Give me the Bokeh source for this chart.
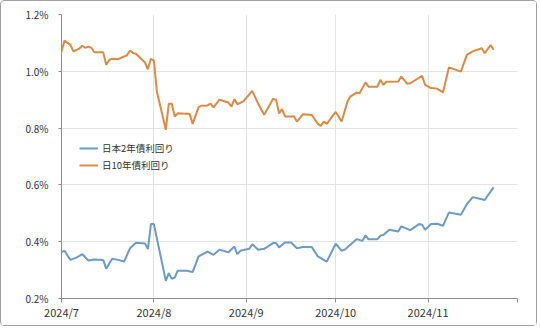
import pandas as pd
from bokeh.plotting import figure
from bokeh.models import Range1d, FixedTicker, Legend, LegendItem
from bokeh.embed import file_html
from bokeh.resources import INLINE

# ---- data (yields in %) ----
dates_2y = [
    "2024-07-01", "2024-07-02", "2024-07-04", "2024-07-06", "2024-07-08", "2024-07-10",
    "2024-07-12", "2024-07-15", "2024-07-16", "2024-07-18", "2024-07-20", "2024-07-22",
    "2024-07-24", "2024-07-26", "2024-07-29", "2024-07-30", "2024-07-31", "2024-08-01",
    "2024-08-05", "2024-08-06", "2024-08-07", "2024-08-08", "2024-08-09", "2024-08-12",
    "2024-08-14", "2024-08-16", "2024-08-19", "2024-08-21", "2024-08-23", "2024-08-26",
    "2024-08-28", "2024-08-29", "2024-08-30", "2024-09-02", "2024-09-03", "2024-09-05",
    "2024-09-07", "2024-09-10", "2024-09-11", "2024-09-12", "2024-09-14", "2024-09-16",
    "2024-09-18", "2024-09-20", "2024-09-23", "2024-09-25", "2024-09-28", "2024-10-01",
    "2024-10-03", "2024-10-04", "2024-10-08", "2024-10-10", "2024-10-11", "2024-10-12",
    "2024-10-15", "2024-10-16", "2024-10-17", "2024-10-19", "2024-10-22", "2024-10-23",
    "2024-10-26", "2024-10-29", "2024-10-30", "2024-10-31", "2024-11-02", "2024-11-04",
    "2024-11-06", "2024-11-08", "2024-11-12", "2024-11-14", "2024-11-16", "2024-11-20",
    "2024-11-21", "2024-11-23",
]
yield_2y = [
    0.363, 0.368, 0.336, 0.344, 0.356, 0.334,
    0.337, 0.336, 0.305, 0.340, 0.336, 0.330,
    0.377, 0.396, 0.394, 0.374, 0.462, 0.462,
    0.262, 0.289, 0.269, 0.274, 0.298, 0.298,
    0.293, 0.348, 0.365, 0.354, 0.372, 0.363,
    0.383, 0.356, 0.368, 0.375, 0.391, 0.372,
    0.375, 0.395, 0.395, 0.380, 0.397, 0.397,
    0.377, 0.381, 0.381, 0.348, 0.330, 0.393,
    0.368, 0.372, 0.409, 0.403, 0.422, 0.409,
    0.409, 0.421, 0.424, 0.442, 0.436, 0.454,
    0.441, 0.462, 0.460, 0.442, 0.462, 0.463,
    0.456, 0.503, 0.495, 0.532, 0.557, 0.547,
    0.562, 0.591,
]

dates_10y = [
    "2024-07-01", "2024-07-02", "2024-07-04", "2024-07-05", "2024-07-07", "2024-07-08",
    "2024-07-09", "2024-07-10", "2024-07-11", "2024-07-12", "2024-07-15", "2024-07-16",
    "2024-07-17", "2024-07-18", "2024-07-20", "2024-07-22", "2024-07-23", "2024-07-24",
    "2024-07-25", "2024-07-26", "2024-07-29", "2024-07-30", "2024-07-31", "2024-08-01",
    "2024-08-02", "2024-08-05", "2024-08-06", "2024-08-07", "2024-08-08", "2024-08-09",
    "2024-08-13", "2024-08-14", "2024-08-16", "2024-08-17", "2024-08-19", "2024-08-20",
    "2024-08-21", "2024-08-23", "2024-08-26", "2024-08-27", "2024-08-28", "2024-08-29",
    "2024-08-31", "2024-09-03", "2024-09-05", "2024-09-07", "2024-09-10", "2024-09-11",
    "2024-09-12", "2024-09-13", "2024-09-14", "2024-09-17", "2024-09-18", "2024-09-20",
    "2024-09-23", "2024-09-25", "2024-09-26", "2024-09-27", "2024-09-28", "2024-10-01",
    "2024-10-03", "2024-10-05", "2024-10-06", "2024-10-08", "2024-10-09", "2024-10-11",
    "2024-10-12", "2024-10-15", "2024-10-16", "2024-10-17", "2024-10-18", "2024-10-22",
    "2024-10-23", "2024-10-25", "2024-10-26", "2024-10-30", "2024-10-31", "2024-11-02",
    "2024-11-04", "2024-11-06", "2024-11-08", "2024-11-12", "2024-11-14", "2024-11-16",
    "2024-11-19", "2024-11-20", "2024-11-22", "2024-11-23",
]
yield_10y = [
    1.070, 1.108, 1.093, 1.070, 1.080, 1.090,
    1.083, 1.087, 1.083, 1.067, 1.067, 1.023,
    1.040, 1.044, 1.043, 1.052, 1.057, 1.073,
    1.064, 1.062, 1.031, 1.007, 1.044, 1.038,
    0.929, 0.794, 0.886, 0.886, 0.841, 0.852,
    0.850, 0.815, 0.874, 0.879, 0.880, 0.886,
    0.873, 0.900, 0.890, 0.876, 0.902, 0.884,
    0.894, 0.931, 0.886, 0.847, 0.903, 0.900,
    0.852, 0.867, 0.841, 0.841, 0.823, 0.849,
    0.846, 0.815, 0.808, 0.823, 0.815, 0.857,
    0.823, 0.895, 0.912, 0.925, 0.923, 0.961,
    0.946, 0.946, 0.970, 0.952, 0.963, 0.964,
    0.982, 0.956, 0.958, 0.984, 0.952, 0.941,
    0.939, 0.926, 1.014, 0.999, 1.058, 1.070,
    1.081, 1.064, 1.092, 1.076,
]

series_names = ["日本2年債利回り", "日10年債利回り"]
x_tick_dates = ["2024-07-01", "2024-08-01", "2024-09-01", "2024-10-01", "2024-11-01", "2024-12-01"]
x_tick_labels = ["2024/7", "2024/8", "2024/9", "2024/10", "2024/11", ""]
y_ticks = [0.2, 0.4, 0.6, 0.8, 1.0, 1.2]
y_tick_labels = ["0.2%", "0.4%", "0.6%", "0.8%", "1.0%", "1.2%"]

# ---- helpers ----
def to_ms(d):
    return int(pd.Timestamp(d).timestamp() * 1000)

x_ticks_ms = [to_ms(d) for d in x_tick_dates]

p = figure(
    width=537, height=326,
    x_axis_type="datetime",
    output_backend="svg", toolbar_location=None,
    x_range=Range1d(x_ticks_ms[0], x_ticks_ms[-1]),
    y_range=Range1d(y_ticks[0], y_ticks[-1]),
    min_border_left=60, min_border_right=21, min_border_top=13, min_border_bottom=29,
)
p.styles = {"border": "1px solid #a0a0a0", "border-radius": "4px"}
p.outline_line_color = None
p.background_fill_color = "white"
p.border_fill_color = "white"

FONT = "Noto Sans CJK JP"

# axes
p.xaxis.ticker = FixedTicker(ticks=x_ticks_ms)
p.xaxis.major_label_overrides = {t: lab for t, lab in zip(x_ticks_ms, x_tick_labels)}
p.yaxis.ticker = FixedTicker(ticks=y_ticks)
p.yaxis.major_label_overrides = {t: lab for t, lab in zip(y_ticks, y_tick_labels)}
for ax in (p.xaxis, p.yaxis):
    ax.axis_line_color = "#8c8c8c"
    ax.axis_line_width = 1
    ax.major_tick_line_color = "#8c8c8c"
    ax.minor_tick_line_color = None
    ax.major_tick_in = 0
    ax.major_label_text_font = FONT
    ax.major_label_text_color = "#333333"
p.xaxis.major_tick_out = 4
p.yaxis.major_tick_out = 3
p.xaxis.major_label_text_font_size = "11px"
p.yaxis.major_label_text_font_size = "10px"
p.xaxis.major_label_standoff = 1
p.yaxis.major_label_standoff = 10

p.xgrid.ticker = FixedTicker(ticks=x_ticks_ms)
p.ygrid.ticker = FixedTicker(ticks=y_ticks)
p.grid.grid_line_color = "#e4e4e4"
p.grid.grid_line_width = 1

# lines
x2 = pd.to_datetime(dates_2y)
x10 = pd.to_datetime(dates_10y)
r2 = p.line(x2, yield_2y, line_color="#6b9bc6", line_width=2)
r10 = p.line(x10, yield_10y, line_color="#dc8a45", line_width=2)

legend = Legend(
    items=[LegendItem(label=series_names[0], renderers=[r2]),
           LegendItem(label=series_names[1], renderers=[r10])],
    location=(18, 126),
    border_line_color=None,
    background_fill_alpha=0,
    padding=0, margin=0, spacing=3,
    glyph_width=19, glyph_height=14, label_height=14,
    label_standoff=4,
    label_text_font=FONT, label_text_font_size="9.5px", label_text_color="#333333",
)
p.add_layout(legend)

open("out.html", "w").write(file_html(p, INLINE))
